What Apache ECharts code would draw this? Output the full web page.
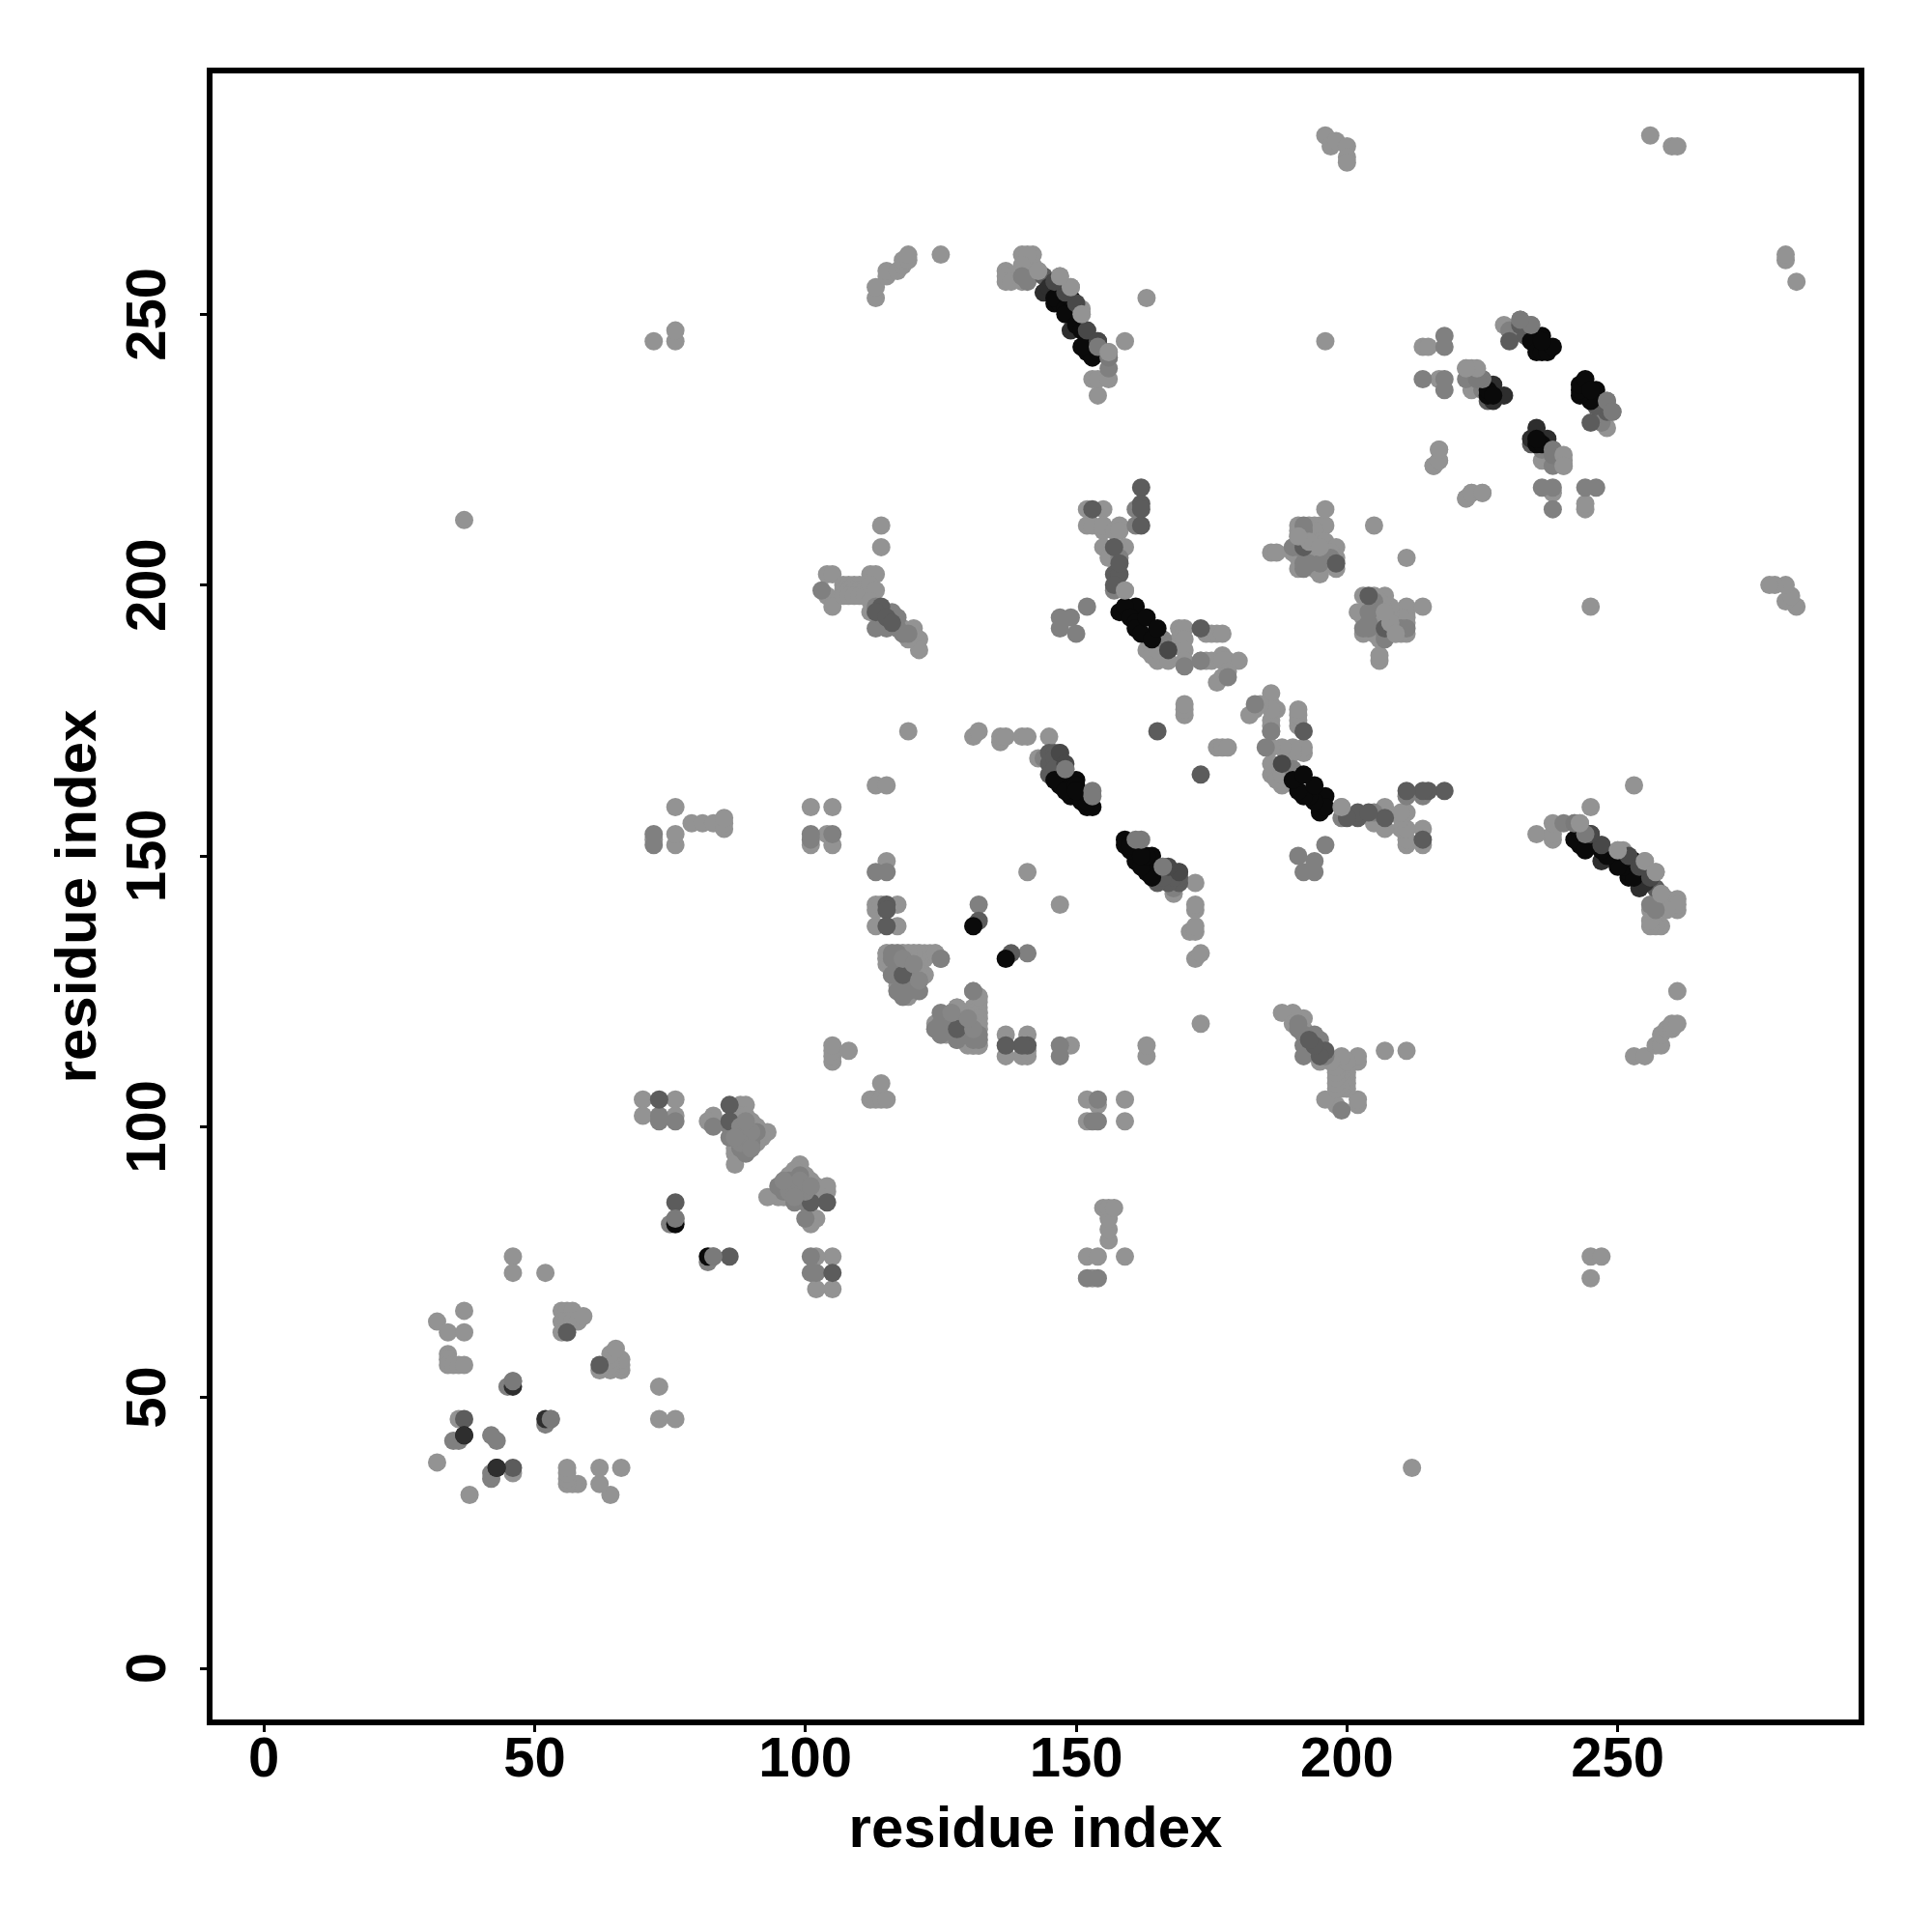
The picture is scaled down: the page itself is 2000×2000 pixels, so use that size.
<!DOCTYPE html>
<html><head><meta charset="utf-8">
<script src="https://cdn.jsdelivr.net/npm/echarts@6/dist/echarts.min.js"></script>
<style>html,body{margin:0;padding:0;background:#fff}#c{width:2000px;height:2000px}</style>
</head><body><div id="c"></div>
<script>
// Contact map: the picture is symmetric about the diagonal, so each contact (i<j) read from it is listed once
// and plotted at both (i,j) and (j,i).
const tickValues = [0, 50, 100, 150, 200, 250];
const lightPts = [[32,38],[32,64],[34,62],[37,62],[37,66],[34,58],[34,57],[34,56],[35,56],[36,56],[37,56],[36,46],
[46,76],[46,73],[52,73],[55,66],[56,66],[57,66],[55,64],[56,64],[57,64],[58,64],[59,65],[55,62],
[70,105],[76,105],[70,102],[76,102],[83,102],[82,101],[88,104],[89,104],[87,102],[88,102],[89,102],[87,101],[88,101],[89,101],[90,101],[87,100],[88,100],[89,100],[90,100],[91,100],[87,99],[88,99],[93,99],[87,98],[90,98],[91,98],[92,98],[87,97],[91,97],[87,96],[90,96],[87,95],[88,95],[87,93],
[72,153],[76,152],[76,154],[76,159],[79,156],[81,156],[83,156],[85,155],[85,156],[85,157],[101,159],[105,159],[101,152],[104,154],[105,152],[105,112],[105,113],[105,114],[105,115],[108,114],
[104,202],[105,202],[112,202],[113,202],[104,198],[105,196],[107,200],[108,200],[109,200],[110,200],[111,200],[107,199],[108,199],[109,199],[110,199],[111,199],[107,198],[108,198],[109,198],[110,198],[111,198],[112,200],[113,199],[112,197],[112,195],[114,207],[114,211],[118,192],[120,192],[121,190],[121,188],[119,190],
[113,253],[113,255],[115,257],[115,258],[117,258],[118,259],[118,260],[119,260],[119,261],[125,261],
[113,163],[115,163],[115,149],[113,141],[113,140],[113,137],[117,141],[117,137],[114,141],
[115,132],[116,132],[117,132],[118,132],[119,132],[120,132],[121,132],[122,132],[123,132],[124,132],[115,131],[116,131],[117,131],[118,131],[119,131],[120,131],[121,131],[122,131],[115,130],[116,130],[117,130],[118,130],[116,128],[117,128],[120,128],[121,128],[122,128],[117,127],[120,127],[121,127],[117,126],[120,126],[117,125],[118,125],[120,125],[118,124],[119,124],
[119,126],[119,173],[131,172],[132,173],[136,171],[136,172],[137,172],[140,172],[141,172],[145,172],[143,168],[141,147],[170,176],[170,177],[170,178],
[131,121],[132,121],[131,120],[132,120],[131,119],[132,119],[131,118],[132,118],[131,115],[132,115],[128,122],[128,121],[128,120],[131,125],[132,124],
[152,214],[155,214],[152,211],[153,211],[155,210],[155,211],[157,210],[158,211],[158,210],[155,207],[159,207],[159,199],[156,205],[169,192],[170,192],[174,191],[175,191],[176,191],[177,191],[169,190],[170,190],[170,188],[170,186],[173,186],[174,186],[175,186],[177,187],[178,186],[180,186],[177,186],[178,184],[177,183],[176,182],[163,188],[165,186],[167,188],[167,186],[164,187],[165,188],
[186,206],[187,206],[193,211],[194,211],[195,211],[196,211],[191,211],[193,210],[194,210],[191,210],[191,209],[191,208],[193,208],[195,208],[196,208],[193,207],[195,207],[198,207],[190,206],[191,206],[197,206],[191,205],[195,205],[198,205],[194,204],[191,203],[194,203],[198,203],[195,202],[196,214],[205,211],
[196,283],[197,281],[198,282],[200,281],[200,279],[200,278],[256,283],[260,281],[261,281],[196,245],[37,212],[76,245],[76,247],[72,245],
[154,235],[153,238],[154,238],[156,238],[156,243],[159,245],[163,253],[151,250],[151,251],[149,255],[147,257],[143,258],[142,259],[142,261],[140,261],[141,261],[140,259],[137,258],[137,257],[137,256],[138,256],[140,256],
[214,244],[215,244],[217,238],[222,240],[223,240],[223,236],[229,248],[217,225],[217,223],[216,222],[222,216],[223,217],[225,217]];
const midPts = [[35,42],[36,42],[42,43],[45,52],[46,53],
[73,102],[73,101],[76,101],[76,83],[75,82],[83,100],[86,98],[89,98],[88,98],[88,97],[89,97],[90,97],[88,96],[89,96],[89,95],[89,99],[90,99],[91,99],[86,100],
[72,152],[72,154],[101,154],[101,153],[105,154],[103,199],[113,196],[114,193],[115,192],[116,195],[117,192],[118,191],[119,191],[113,192],[115,195],[117,194],
[113,147],[115,147],[118,128],[119,128],[118,127],[119,127],[118,126],[119,125],[125,131],[125,117],[124,118],[126,119],[126,120],[125,121],[128,119],[128,117],[128,116],[131,117],[132,117],[131,116],[132,116],
[132,141],[144,168],[148,166],[147,194],[149,194],[147,192],[150,191],[152,196],[161,214],[161,211],[158,205],[157,199],[173,186],[166,190],
[178,183],[170,185],[191,208],[192,204],[192,203],[195,204],[190,207],[193,204],[191,207],[197,205],[192,210],[192,211],
[156,240],[156,242],[141,256],[140,257],[218,246],[218,244],[214,238],[218,238],[218,236],[222,238],[225,236],[230,247],[232,247],[232,249],[234,248]];
const darkPts = [[37,46],[56,62],[73,105],[76,86],[86,104],[86,101],[115,141],[115,140],[115,137],[128,118],[132,138],[114,196],[113,195],[115,194],[116,193],
[145,169],[146,169],[147,169],[145,167],[146,168],[145,165],[146,166],[165,173],[153,214],[162,218],[162,215],[162,214],[162,211],[157,207],[157,202],[158,202],[158,204],[157,200],[173,192],
[192,207],[198,204],[144,257],[152,247],[225,238],[226,234],[230,245],[232,248],[233,246]];
const vdarkPts = [[37,43],[43,37],[46,52],[144,254],[145,255],[146,256],[148,254],[149,247],[154,245],[227,237],[227,234],[229,235],[235,246]];
const blackPts = [[76,82],[131,137],[147,163],[148,164],[146,164],[150,164],[149,161],[148,162],[150,163],[151,160],[152,159],[153,159],[152,160],[150,162],
[161,196],[158,195],[159,196],[160,194],[161,193],[161,192],[162,191],[163,194],[164,190],[165,192],
[146,252],[147,252],[146,253],[148,251],[148,250],[149,253],[150,248],[151,247],[152,245],[153,244],[152,243],[153,243],[153,242],[154,243],[151,244],
[226,235],[226,236],[227,235],[234,245],[235,243],[236,243],[237,243],[236,246],[238,244],[236,245]];
const topDark = [[150,252],[152,247],[154,245],[148,254],[146,256],[147,169],[148,167],[167,188]];
const topMid = [[46,53],[76,83],[153,162],[153,161],[148,166],[154,244],[156,242],[234,248],[232,249],[225,238],[224,238]];
const softPts = [[88,100],[90,99],[88,97],[90,96],[89,101],[87,98],[118,131],[120,130],[121,127]];
const topLight = [[149,255],[151,250],[156,243],[147,257],[143,258],[159,199],[193,208],[195,207],[191,209],[224,240],[222,240]];

const shades = [['#939393', lightPts], ['#808080', midPts], ['#5c5c5c', darkPts], ['#2e2e2e', vdarkPts], ['#0a0a0a', blackPts], ['#484848', topDark], ['#7a7a7a', topMid], ['#868686', softPts], ['#939393', topLight]];
const both = arr => arr.flatMap(([i, j]) => [[i, j], [j, i]]);

const axisBase = {
  type: 'value', min: -10, max: 295, name: 'residue index', nameLocation: 'middle',
  nameTextStyle: { fontFamily: 'Liberation Sans', fontWeight: 'bold', fontSize: 60, color: '#000' },
  axisLine: { show: false, onZero: false }, splitLine: { show: false },
  axisTick: { show: true, length: 10, lineStyle: { color: '#000', width: 3 }, customValues: tickValues },
  axisLabel: { show: true, fontFamily: 'Liberation Sans', fontWeight: 'bold', fontSize: 58, color: '#000', customValues: tickValues }
};
const chart = echarts.init(document.getElementById('c'), null, { renderer: 'canvas' });
chart.setOption({
  animation: false, backgroundColor: '#fff',
  grid: { left: 217, right: 73, top: 73, bottom: 217, show: true, borderColor: '#000', borderWidth: 6, backgroundColor: '#fff' },
  xAxis: { ...axisBase, nameGap: 82, axisLabel: { ...axisBase.axisLabel, margin: 11 } },
  yAxis: { ...axisBase, nameGap: 105, axisLabel: { ...axisBase.axisLabel, rotate: 90, margin: 33 } },
  series: shades.map(([color, pts]) => ({
    type: 'scatter', symbol: 'circle', symbolSize: 19, data: both(pts), silent: true,
    itemStyle: { color, opacity: 1 }
  }))
});
</script></body></html>
